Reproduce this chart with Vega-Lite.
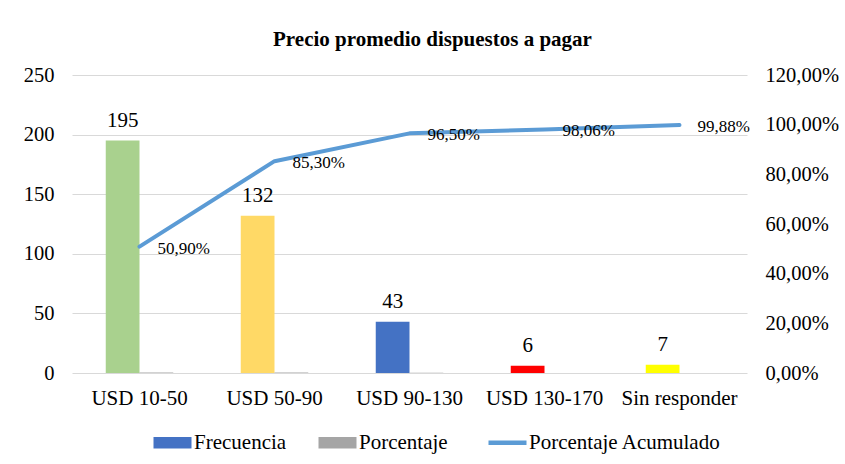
{
  "$schema": "https://vega.github.io/schema/vega-lite/v6.json",
  "width": 675,
  "height": 298,
  "autosize": {"type": "none"},
  "padding": {"left": 72, "top": 75, "right": 98, "bottom": 91},
  "background": "white",
  "config": {
    "locale": {"number": {"decimal": ",", "thousands": ".", "grouping": [3], "currency": ["", " €"]}},
    "font": "Liberation Serif",
    "view": {"stroke": null},
    "axis": {"labelFont": "Liberation Serif", "labelColor": "black", "labelFontSize": 20.5, "ticks": false, "domain": false, "title": null},
    "legend": {
      "orient": "none",
      "legendX": 90,
      "legendY": 357,
      "direction": "horizontal",
      "title": null,
      "labelFont": "Liberation Serif",
      "labelFontSize": 21,
      "labelColor": "black",
      "labelLimit": 500,
      "symbolSize": 1444,
      "symbolType": "M-1,-0.3H1V0.3H-1Z",
      "columnPadding": 31,
      "labelOffset": 11
    }
  },
  "title": {"text": "Precio promedio dispuestos a pagar", "font": "Liberation Serif", "fontSize": 21, "fontWeight": "bold", "color": "black", "offset": 15, "dx": 23},
  "data": {"values": [
    {"rango": "USD 10-50", "Frecuencia": 195, "Porcentaje": 0.509, "acumulado": 0.509},
    {"rango": "USD 50-90", "Frecuencia": 132, "Porcentaje": 0.344, "acumulado": 0.853},
    {"rango": "USD 90-130", "Frecuencia": 43, "Porcentaje": 0.112, "acumulado": 0.965},
    {"rango": "USD 130-170", "Frecuencia": 6, "Porcentaje": 0.0156, "acumulado": 0.9806},
    {"rango": "Sin responder", "Frecuencia": 7, "Porcentaje": 0.0182, "acumulado": 0.9988}
  ]},
  "encoding": {
    "x": {"field": "rango", "type": "nominal", "sort": null, "scale": {"paddingInner": 0, "paddingOuter": 0}, "axis": {"labelAngle": 0, "labelPadding": 14, "grid": false, "labelFontSize": 21}}
  },
  "layer": [
    {
      "transform": [{"fold": ["Frecuencia", "Porcentaje"], "as": ["serie", "valor"]}],
      "encoding": {
        "xOffset": {"field": "serie", "type": "nominal", "scale": {"domain": ["Frecuencia", "Porcentaje"], "paddingInner": 0, "paddingOuter": 1.045}},
        "y": {"field": "valor", "type": "quantitative", "scale": {"domain": [0, 250]}, "axis": {"orient": "left", "values": [0, 50, 100, 150, 200, 250], "grid": true, "gridColor": "#D9D9D9", "gridWidth": 1.2, "labelPadding": 18}}
      },
      "layer": [
        {
          "transform": [{"filter": "datum.serie == 'Frecuencia'"}],
          "mark": {"type": "bar"},
          "encoding": {
            "fill": {"field": "rango", "type": "nominal", "sort": null, "scale": {"domain": ["USD 10-50", "USD 50-90", "USD 90-130", "USD 130-170", "Sin responder"], "range": ["#A9D18E", "#FFD966", "#4472C4", "#FF0000", "#FFFF00"]}, "legend": null}
          }
        },
        {
          "transform": [{"filter": "datum.serie == 'Porcentaje'"}],
          "mark": {"type": "bar"},
          "encoding": {
            "color": {"field": "serie", "type": "nominal", "scale": {"domain": ["Frecuencia", "Porcentaje", "Porcentaje Acumulado"], "range": ["#4472C4", "#A5A5A5", "#5B9BD5"]},
              "legend": {
                "encode": {
                  "symbols": {"update": {
                    "shape": {"signal": "datum.label == 'Porcentaje Acumulado' ? 'stroke' : 'M-1,-0.3H1V0.3H-1Z'"},
                    "fill": {"scale": "color", "field": "value"},
                    "stroke": {"scale": "color", "field": "value"},
                    "strokeWidth": {"signal": "datum.label == 'Porcentaje Acumulado' ? 4.5 : 0"},
                    "opacity": {"value": 1}
                  }}
                }
              }
            }
          }
        },
        {
          "transform": [{"filter": "datum.serie == 'Frecuencia'"}],
          "mark": {"type": "text", "baseline": "alphabetic", "dy": -14, "fontSize": 21, "color": "black", "font": "Liberation Serif"},
          "encoding": {
            "text": {"field": "valor", "type": "quantitative"}
          }
        }
      ]
    },
    {
      "encoding": {
        "y": {"field": "acumulado", "type": "quantitative", "scale": {"domain": [0, 1.2]}, "axis": {"orient": "right", "values": [0, 0.2, 0.4, 0.6, 0.8, 1.0, 1.2], "format": ".2%", "grid": false, "labelPadding": 18}}
      },
      "layer": [
        {
          "mark": {"type": "line", "strokeWidth": 4, "strokeCap": "round", "strokeJoin": "round"},
          "encoding": {
            "color": {"datum": "Porcentaje Acumulado", "type": "nominal"}
          }
        },
        {
          "mark": {"type": "text", "align": "left", "baseline": "middle", "dx": 18, "dy": 2, "fontSize": 17, "color": "black", "font": "Liberation Serif"},
          "encoding": {
            "text": {"field": "acumulado", "type": "quantitative", "format": ".2%"}
          }
        }
      ]
    }
  ],
  "resolve": {"scale": {"y": "independent"}}
}
